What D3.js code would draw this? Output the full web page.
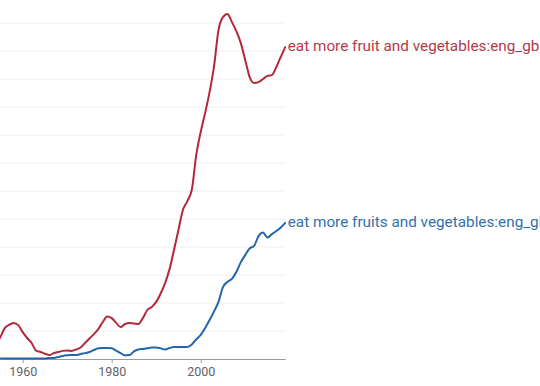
<!DOCTYPE html>
<html>
<head>
<meta charset="utf-8">
<script src="https://cdn.jsdelivr.net/npm/d3@7"></script>
<style>
  html, body { margin: 0; padding: 0; background: #fff; }
  svg { display: block; font-family: Roboto, "Noto Sans", sans-serif; }
</style>
</head>
<body>
<svg id="chart" width="540" height="386"></svg>
<script>
// ---- data (relative frequency, gridline units) ----
const years = d3.range(1954, 2020);
const seriesNames = [
  "eat more fruit and vegetables:eng_gb",
  "eat more fruits and vegetables:eng_gb"
];
const fruitValues = [
  0.50, 0.79, 1.11, 1.23, 1.29, 1.21, 0.96, 0.75, 0.57, 0.30,
  0.25, 0.19, 0.14, 0.21, 0.25, 0.29, 0.30, 0.29, 0.34, 0.41,
  0.57, 0.73, 0.89, 1.07, 1.32, 1.52, 1.46, 1.29, 1.14, 1.25,
  1.29, 1.27, 1.25, 1.46, 1.75, 1.86, 2.04, 2.34, 2.71, 3.21,
  3.89, 4.61, 5.32, 5.64, 6.04, 7.29, 8.11, 8.79, 9.54, 10.46,
  11.75, 12.21, 12.32, 12.04, 11.71, 11.29, 10.68, 10.07, 9.86, 9.89,
  10.00, 10.11, 10.14, 10.43, 10.79, 11.14
];
const fruitsValues = [
  0.02, 0.02, 0.02, 0.02, 0.02, 0.02, 0.02, 0.02, 0.02, 0.02,
  0.02, 0.02, 0.04, 0.04, 0.07, 0.11, 0.13, 0.14, 0.14, 0.18,
  0.21, 0.25, 0.32, 0.38, 0.39, 0.39, 0.38, 0.30, 0.21, 0.13,
  0.14, 0.27, 0.34, 0.36, 0.38, 0.41, 0.41, 0.38, 0.34, 0.39,
  0.43, 0.43, 0.43, 0.43, 0.52, 0.70, 0.86, 1.11, 1.39, 1.70,
  2.04, 2.57, 2.75, 2.86, 3.11, 3.45, 3.71, 3.95, 4.04, 4.39,
  4.52, 4.34, 4.46, 4.57, 4.70, 4.86
];
const tickYears = [1960, 1980, 2000];
const gridValues = d3.range(1, 13);
const lineColors = ["#b3283b", "#2166aa"];
const labelColors = ["#b33a49", "#3570a9"];

// ---- chart ----
const svg = d3.select("#chart");
const x = d3.scaleLinear().domain([1954.9, 2019]).range([0, 285.25]);
const y = d3.scaleLinear().domain([0, 12]).range([359, 23]);

svg.append("defs").append("clipPath").attr("id", "plotclip")
  .append("rect").attr("x", 0).attr("y", 0).attr("width", 286).attr("height", 386);

// gridlines
svg.append("g").selectAll("line").data(gridValues).join("line")
  .attr("x1", x(1954.9)).attr("x2", x(2019))
  .attr("y1", d => y(d)).attr("y2", d => y(d))
  .attr("stroke", "#efefef").attr("stroke-width", 1);

// x axis
const axis = d3.axisBottom(x)
  .tickValues(tickYears)
  .tickFormat(d3.format("d"))
  .tickSize(4)
  .tickSizeOuter(0)
  .tickPadding(4);
const gx = svg.append("g").attr("transform", `translate(0,${y(0)})`).call(axis);
gx.select(".domain").attr("stroke", "#9a9a9a").attr("stroke-width", 1.2);
gx.selectAll(".tick line").attr("stroke", "#9a9a9a");
gx.selectAll(".tick text").attr("fill", "#5f6368").attr("font-size", 12.5)
  .attr("font-family", "Roboto, sans-serif");

// lines
const series = [fruitValues, fruitsValues];
const line = d3.line()
  .x((d, i) => x(years[i]))
  .y(d => y(d))
  .curve(d3.curveMonotoneX);

const plot = svg.append("g").attr("clip-path", "url(#plotclip)");
plot.selectAll("path.series").data(series).join("path")
  .attr("class", "series")
  .attr("d", line)
  .attr("fill", "none")
  .attr("stroke", (d, i) => lineColors[i])
  .attr("stroke-width", 2)
  .attr("stroke-linejoin", "round")
  .attr("stroke-linecap", "round");

// end labels
svg.selectAll("text.lbl").data(series).join("text")
  .attr("class", "lbl")
  .attr("x", d => x(years[years.length - 1]) + 2.5)
  .attr("y", d => y(d[d.length - 1]))
  .attr("dy", "0.25em")
  .attr("fill", (d, i) => labelColors[i])
  .attr("font-size", 15.3)
  .attr("font-family", "Roboto, sans-serif")
  .text((d, i) => seriesNames[i]);
</script>
</body>
</html>
